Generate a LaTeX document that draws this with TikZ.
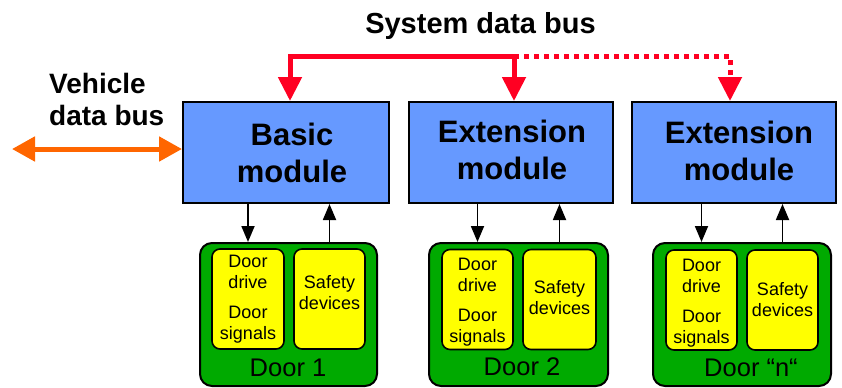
\documentclass[tikz,border=0pt]{standalone}
\usepackage{fontspec}
\setmainfont{Liberation Sans}
\usetikzlibrary{arrows.meta}
\definecolor{modblue}{HTML}{6699FF}
\definecolor{doorgreen}{HTML}{00AA00}
\definecolor{unityellow}{HTML}{FFFF00}
\definecolor{busred}{HTML}{FF0022}
\definecolor{vehorange}{HTML}{FF6600}
\newcommand\fsz[2]{\fontsize{#1bp}{#2bp}\selectfont}
\begin{document}
\begin{tikzpicture}[x=1bp,y=-1bp,
  modbox/.style={draw=black,line width=2bp,fill=modblue,minimum height=101bp,inner sep=0pt},
  modtext/.style={align=center,inner sep=0pt,font=\bfseries\fsz{31}{37}},
  doorbox/.style={draw=black,line width=2bp,fill=doorgreen,rounded corners=12bp,minimum height=143bp,inner sep=0pt},
  unitbox/.style={draw=black,line width=1.6bp,fill=unityellow,rounded corners=8bp,minimum height=100bp,inner sep=0pt},
  unittext/.style={align=center,inner sep=0pt,font=\fsz{18}{21}},
  doortext/.style={anchor=base,inner sep=0pt,font=\fsz{25.5}{29}},
  sigarrow/.style={line width=1.8bp,-{Triangle[width=13bp,length=16bp]}},
  redbus/.style={draw=busred,line width=5bp,line join=miter,-{Triangle[width=23bp,length=24bp]}},
  orarrow/.style={draw=vehorange,line width=5bp,{Triangle[width=24bp,length=23bp]}-{Triangle[width=24bp,length=23bp]}}
]
\useasboundingbox (0,0) rectangle (842,387);

% module boxes
\node[modbox,minimum width=206bp] (b1) at (286,152.5) {};
\node[modbox,minimum width=204bp] (b2) at (511,152.5) {};
\node[modbox,minimum width=204bp] (b3) at (734,152.5) {};
\node[modtext] (b1t) at (292,152.5) {Basic\\module};
\node[modtext] (b2t) at (512,150) {Extension\\module};
\node[modtext] (b3t) at (739,150.5) {Extension\\module};

% door boxes
\node[doorbox,minimum width=177bp] (g1) at (288.5,314.5) {};
\node[doorbox,minimum width=179bp] (g2) at (518.5,314.5) {};
\node[doorbox,minimum width=178bp] (g3) at (742,314.5) {};

\node[unitbox,minimum width=72bp] (u1a) at (248,299) {};
\node[unitbox,minimum width=71bp] (u1b) at (329.5,299) {};
\node[unitbox,minimum width=71bp] (u2a) at (477.5,299.5) {};
\node[unitbox,minimum width=73bp] (u2b) at (559.5,299.5) {};
\node[unitbox,minimum width=71bp] (u3a) at (701.5,300) {};
\node[unitbox,minimum width=71bp] (u3b) at (782.5,300) {};

\node[unittext] (u1at) at (248,299) {Door\\drive\\[9bp]Door\\signals};
\node[unittext] (u1bt) at (329.5,293) {Safety\\devices};
\node[unittext] (u2at) at (477.5,302.5) {Door\\drive\\[9bp]Door\\signals};
\node[unittext] (u2bt) at (559.5,297.5) {Safety\\devices};
\node[unittext] (u3at) at (701.5,303) {Door\\drive\\[9bp]Door\\signals};
\node[unittext] (u3bt) at (782.5,300) {Safety\\devices};

\node[doortext] (d1) at (288,376) {Door 1};
\node[doortext] (d2) at (522,375) {Door 2};
\node[doortext] (d3) at (751,376) {Door “n“};

% signal arrows
\draw[sigarrow] (b1.south -| u1a) -- (g1.north -| u1a);
\draw[sigarrow] (g1.north -| u1b) -- (b1.south -| u1b);
\draw[sigarrow] (b2.south -| u2a) -- (g2.north -| u2a);
\draw[sigarrow] (g2.north -| u2b) -- (b2.south -| u2b);
\draw[sigarrow] (b3.south -| u3a) -- (g3.north -| u3a);
\draw[sigarrow] (g3.north -| u3b) -- (b3.south -| u3b);

% system data bus
\node[anchor=base,inner sep=0pt,font=\bfseries\fsz{29}{34}] (sdb) at (480.5,33.5) {System data bus};
\coordinate (busL) at (290,56);
\coordinate (busM) at (514,56);
\coordinate (busR) at (730,56);
\draw[redbus] (busM) -- (busL) -- (b1.north -| busL);
\draw[redbus] (busM) -- (b2.north -| busM);
\draw[redbus,dash pattern=on 5bp off 5bp] (busM) -- (busR) -- (b3.north -| busR);

% vehicle data bus
\node[anchor=north west,align=left,inner sep=0pt,font=\bfseries\fsz{28}{32}] (vdb) at (49,73) {Vehicle\\data bus};
\coordinate (vleft) at (12,149);
\draw[orarrow] (vleft) -- (b1.west |- vleft);
\end{tikzpicture}
\end{document}
